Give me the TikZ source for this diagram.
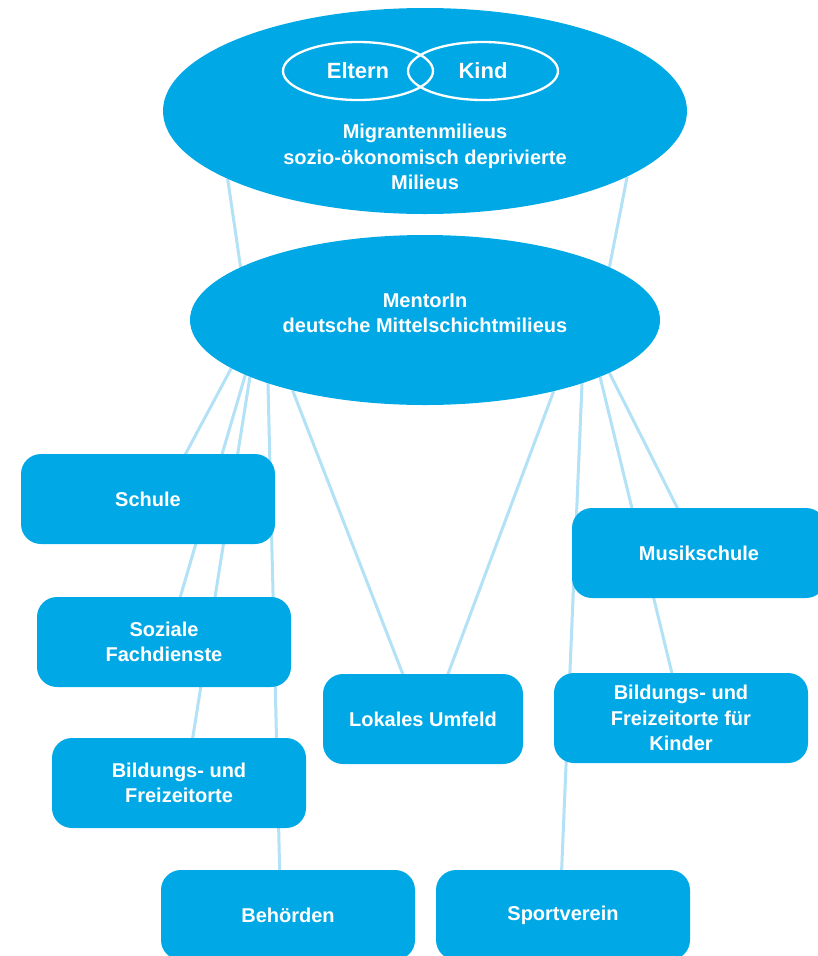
\documentclass[tikz,border=0pt]{standalone}
\usepackage{fontspec}
\setmainfont{Liberation Sans}
\usetikzlibrary{shapes.geometric,backgrounds}

\definecolor{milieublue}{HTML}{00A9E6}
\definecolor{linkblue}{HTML}{B3E1F6}

\tikzset{
  milieu/.style={ellipse, fill=milieublue, inner sep=0pt},
  ring/.style={ellipse, draw=white, line width=2.3pt, minimum width=150pt, minimum height=58pt, text=white, font=\bfseries\fontsize{22}{26}\selectfont},
  ort/.style={rectangle, rounded corners=20pt, fill=milieublue, text=white, align=center, minimum width=254pt, minimum height=90pt, inner sep=0pt, font=\bfseries\fontsize{20}{25.5}\selectfont},
  caption/.style={text=white, align=center, font=\bfseries\fontsize{20}{25.5}\selectfont},
  link/.style={linkblue, line width=3pt}
}

\begin{document}
\begin{tikzpicture}[x=1pt, y=-1pt]

\useasboundingbox (0,0) rectangle (818,956);

\node[milieu, minimum width=524pt, minimum height=206pt] (migrant) at (425,111) {};
\node[ring] (eltern) at (358,71) {Eltern};
\node[ring] (kind) at (483,71) {Kind};
\node[caption] (migtext) at (425,157) {Migrantenmilieus\\sozio-ökonomisch deprivierte\\Milieus};

\node[milieu, minimum width=470pt, minimum height=170pt] (mentor) at (425,320) {};
\node[caption] (mentortext) at (425,313) {MentorIn\\deutsche Mittelschichtmilieus};

\node[ort] (schule) at (148,499) {Schule};
\node[ort] (soziale) at (164,642) {Soziale\\Fachdienste};
\node[ort] (bildung) at (179,783) {Bildungs- und\\Freizeitorte};
\node[ort] (behoerden) at (288,915) {Behörden};
\node[ort, minimum width=200pt] (umfeld) at (423,719) {Lokales Umfeld};
\node[ort] (musik) at (699,553) {Musikschule};
\node[ort] (kinder) at (681,718) {Bildungs- und\\Freizeitorte für\\Kinder};
\node[ort] (sport) at (563,915) {Sportverein};

\begin{pgfonlayer}{background}
\draw[link] (migrant.199.8) -- (mentor.164.3);
\draw[link] (migrant.342.1) -- (mentor.16.7);

\draw[link] (mentor.194) -- ([xshift=29pt, yshift=29pt]schule.center);
\draw[link] (mentor.197.2) -- ([xshift=11pt, yshift=27pt]soziale.center);
\draw[link] (mentor.198.5) -- ([xshift=11pt, yshift=28pt]bildung.center);
\draw[link] (mentor.202.5) -- ([xshift=-8pt, yshift=30pt]behoerden.center);
\draw[link] (mentor.208.7) -- ([xshift=-14pt, yshift=29pt]umfeld.center);
\draw[link] (mentor.331.1) -- ([xshift=19pt, yshift=29pt]umfeld.center);
\draw[link] (mentor.338) -- ([xshift=-2pt, yshift=30pt]sport.center);
\draw[link] (mentor.342.6) -- ([xshift=-5pt, yshift=28pt]kinder.center);
\draw[link] (mentor.344.8) -- ([xshift=-13pt, yshift=28pt]musik.center);
\end{pgfonlayer}

\end{tikzpicture}
\end{document}
